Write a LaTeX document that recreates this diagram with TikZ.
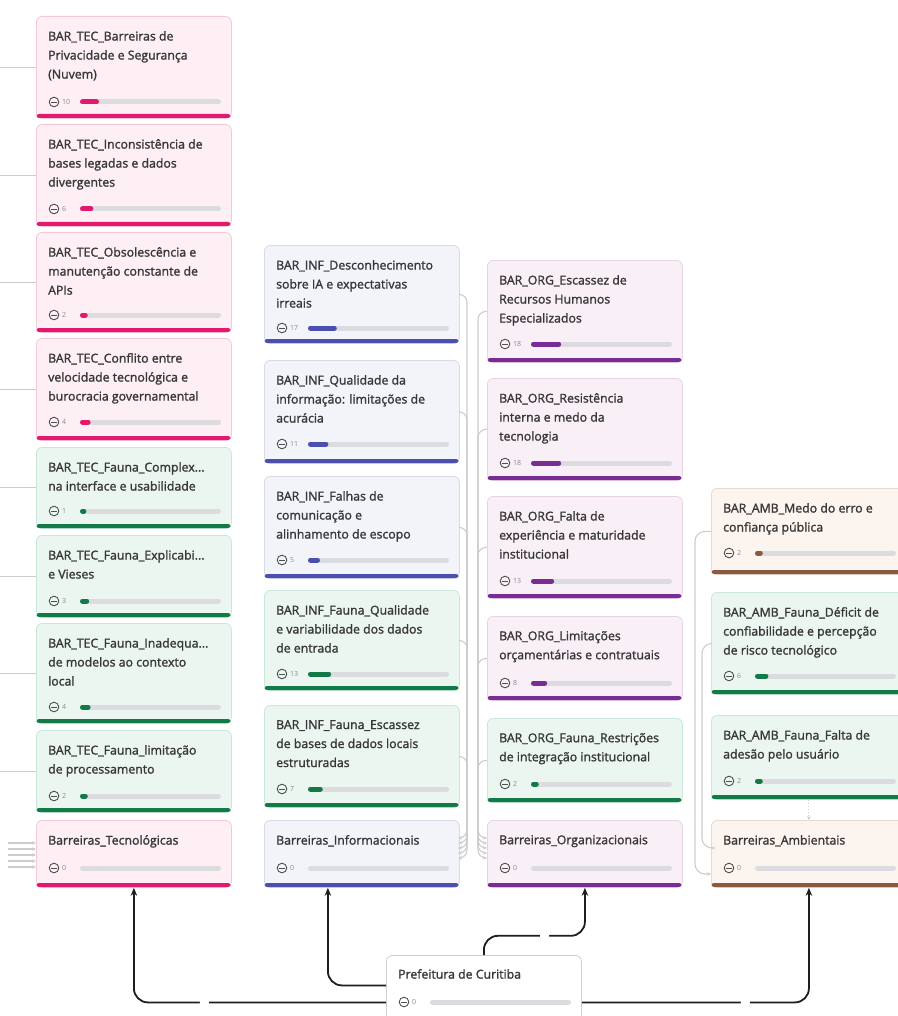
\documentclass[tikz,border=0pt]{standalone}
\usepackage{fontspec}
\setmainfont{Open Sans}
\newfontfamily\semib{Open Sans}[FakeBold=1.6]
\usetikzlibrary{arrows.meta}
\definecolor{tecFill}{HTML}{FDEFF4}\definecolor{tecLine}{HTML}{F4C8D8}\definecolor{tecAcc}{HTML}{E3186F}
\definecolor{faunaFill}{HTML}{EBF6F1}\definecolor{faunaLine}{HTML}{C9E7DA}\definecolor{faunaAcc}{HTML}{127A47}
\definecolor{infFill}{HTML}{F3F4FA}\definecolor{infLine}{HTML}{D8DAEA}\definecolor{infAcc}{HTML}{4B4FAE}
\definecolor{orgFill}{HTML}{F9EFF7}\definecolor{orgLine}{HTML}{E8D3E5}\definecolor{orgAcc}{HTML}{7A2C95}
\definecolor{ambFill}{HTML}{FBF4EF}\definecolor{ambLine}{HTML}{EAD9CD}\definecolor{ambAcc}{HTML}{8A5A3E}
\definecolor{titleCol}{HTML}{383838}
\definecolor{numCol}{HTML}{8A8A8A}
\definecolor{trackCol}{HTML}{DCDCE0}
\definecolor{connGray}{HTML}{CDCDCD}
\definecolor{iconCol}{HTML}{505050}
\definecolor{mainArrow}{HTML}{1E1E1E}

\newcommand{\card}[8]{%
  \node[cardbox=#5, minimum width=195pt, minimum height={(#4-#3)*1pt}, anchor=north west] (#1) at (#2,#3) {};
  \fill[#5Acc, rounded corners=2.5pt] (#2+0.5,#4-4) rectangle (#2+194.5,#4);
  \node[cardtext, anchor=north west] at (#2+12,#3+15) {#8};
  \coordinate (#1-i) at (#2+18,#7);
  \draw[iconline] (#1-i) circle[radius=4.8pt];
  \draw[iconline] ([xshift=-2.6pt]#1-i) -- ([xshift=2.6pt]#1-i);
  \node[numtext, anchor=west] at ([xshift=8pt]#1-i) {#6};
  \draw[track] ([xshift=28.5pt]#1-i) -- ([xshift=164.5pt]#1-i);
  \ifnum#6>0 \draw[#5Acc, line width=5pt, line cap=round] ([xshift=28.5pt]#1-i) -- ([xshift={(28.5+1.4*#6)*1pt}]#1-i);\fi
}

\begin{document}
\begin{tikzpicture}[x=1pt,y=-1pt,
  cardbox/.style={fill=#1Fill, draw=#1Line, line width=0.8pt, rounded corners=6pt, inner sep=0pt},
  cardtext/.style={font=\semib\fontsize{12.3}{19}\selectfont, text=titleCol, align=left, inner sep=0pt},
  numtext/.style={font=\fontsize{7}{8}\selectfont, text=numCol, inner sep=0pt},
  iconline/.style={draw=iconCol, line width=0.9pt},
  track/.style={draw=trackCol, line width=5pt, line cap=round},
  conn/.style={draw=connGray, line width=1.1pt},
  carr/.style={-{Stealth[length=4pt,width=3.5pt]}},
  mainarr/.style={draw=mainArrow, line width=1.8pt, rounded corners=14pt, -{Stealth[length=8pt,width=6.5pt]}},
  gap/.style={fill=white, inner sep=0pt, minimum width=9pt, minimum height=5pt}]
\fill[white] (0,0) rectangle (897,1016);
\useasboundingbox (0,0) rectangle (897,1016);

% ---------- Technological column ----------
\card{tec1}{36}{16}{118}{tec}{10}{102}{BAR\_TEC\_Barreiras de\\Privacidade e Segurança\\(Nuvem)}
\card{tec2}{36}{124}{226}{tec}{6}{209}{BAR\_TEC\_Inconsistência de\\bases legadas e dados\\divergentes}
\card{tec3}{36}{232}{332}{tec}{2}{315}{BAR\_TEC\_Obsolescência e\\manutenção constante de\\APIs}
\card{tec4}{36}{338}{440}{tec}{4}{422}{BAR\_TEC\_Conflito entre\\velocidade tecnológica e\\burocracia governamental}
\card{tec5}{36}{447}{528}{fauna}{1}{511}{BAR\_TEC\_Fauna\_Complex...\\na interface e usabilidade}
\card{tec6}{36}{535}{617}{fauna}{3}{601}{BAR\_TEC\_Fauna\_Explicabi...\\e Vieses}
\card{tec7}{36}{623}{723}{fauna}{4}{707}{BAR\_TEC\_Fauna\_Inadequa...\\de modelos ao contexto\\local}
\card{tec8}{36}{730}{812}{fauna}{2}{796}{BAR\_TEC\_Fauna\_limitação\\de processamento}
\card{btec}{36}{820}{887}{tec}{0}{868}{Barreiras\_Tecnológicas}

% ---------- Informational column ----------
\card{inf1}{264}{245}{343}{inf}{17}{328}{BAR\_INF\_Desconhecimento\\sobre IA e expectativas\\irreais}
\card{inf2}{264}{360}{463}{inf}{11}{444}{BAR\_INF\_Qualidade da\\informação: limitações de\\acurácia}
\card{inf3}{264}{476}{578}{inf}{5}{560}{BAR\_INF\_Falhas de\\comunicação e\\alinhamento de escopo}
\card{inf4}{264}{590}{690}{fauna}{13}{674}{BAR\_INF\_Fauna\_Qualidade\\e variabilidade dos dados\\de entrada}
\card{inf5}{264}{705}{807}{fauna}{7}{789}{BAR\_INF\_Fauna\_Escassez\\de bases de dados locais\\estruturadas}
\card{binf}{264}{820}{887}{inf}{0}{868}{Barreiras\_Informacionais}

% ---------- Organisational column ----------
\card{org1}{487}{260}{362}{org}{18}{344}{BAR\_ORG\_Escassez de\\Recursos Humanos\\Especializados}
\card{org2}{487}{378}{480}{org}{18}{463}{BAR\_ORG\_Resistência\\interna e medo da\\tecnologia}
\card{org3}{487}{496}{598}{org}{13}{581}{BAR\_ORG\_Falta de\\experiência e maturidade\\institucional}
\card{org4}{487}{616}{700}{org}{8}{683}{BAR\_ORG\_Limitações\\orçamentárias e contratuais}
\card{org5}{487}{718}{802}{fauna}{2}{784}{BAR\_ORG\_Fauna\_Restrições\\de integração institucional}
\card{borg}{487}{820}{887}{org}{0}{868}{Barreiras\_Organizacionais}

% ---------- Environmental column ----------
\card{amb1}{711}{488}{574}{amb}{2}{553}{BAR\_AMB\_Medo do erro e\\confiança pública}
\card{amb2}{711}{592}{694}{fauna}{6}{676}{BAR\_AMB\_Fauna\_Déficit de\\confiabilidade e percepção\\de risco tecnológico}
\card{amb3}{711}{715}{799}{fauna}{2}{781}{BAR\_AMB\_Fauna\_Falta de\\adesão pelo usuário}
\card{bamb}{711}{820}{887}{amb}{0}{868}{Barreiras\_Ambientais}

% ---------- Root ----------
\node[fill=white, draw=black!18, line width=0.8pt, rounded corners=6pt, inner sep=0pt,
      minimum width=195pt, minimum height=80pt, anchor=north west] (pref) at (386,955) {};
\node[cardtext, anchor=north west] at (398,969) {Prefeitura de Curitiba};
\coordinate (pref-i) at (404,1002);
\draw[iconline] (pref-i) circle[radius=4.8pt];
\draw[iconline] ([xshift=-2.6pt]pref-i) -- ([xshift=2.6pt]pref-i);
\node[numtext, anchor=west] at ([xshift=8pt]pref-i) {0};
\draw[track] ([xshift=28.5pt]pref-i) -- ([xshift=164.5pt]pref-i);

% ---------- grey connectors ----------
\coordinate (lft) at (0,0);
\foreach \n in {tec1,tec2,tec3,tec4,tec5,tec6,tec7,tec8}
  \draw[conn] (\n.west) -- (\n.west -| lft);
\foreach \k/\yy in {1/843,2/849,3/855,4/861,5/867}{
  \coordinate (tb\k) at (8,\yy);
  \draw[conn,carr] (tb\k) -- (tb\k -| btec.west);
}
\coordinate (infbus) at (467,0);
\coordinate (orgbus) at (478,0);
\foreach \k/\yy in {1/838,2/843,3/848,4/853,5/858}{
  \coordinate (ik\k) at (458,\yy);
  \coordinate (ok\k) at (487,\yy);
  \draw[conn,carr,rounded corners=8pt] (inf\k.east) -| (infbus |- ik\k) -- (ik\k);
  \draw[conn,carr,rounded corners=8pt] (org\k.west) -| (orgbus |- ok\k) -- (ok\k);
}
\coordinate (ambbusA) at (695,0);
\coordinate (ambbusB) at (702,0);
\coordinate (a1) at (711,874);
\coordinate (a2) at (711,848);
\draw[conn,carr,rounded corners=10pt] (amb1.west) -| (ambbusA |- a1) -- (a1);
\draw[conn,carr,rounded corners=10pt] (amb2.west) -| (ambbusB |- a2) -- (a2);
\draw[conn,carr,dotted] (amb3.south) -- (bamb.north);

% ---------- main black arrows ----------
\draw[mainarr] ([yshift=-7pt]pref.west) -| node[gap,pos=0.36]{} (btec.south);
\draw[mainarr] ([yshift=10pt]pref.west) -| ([xshift=-34pt]binf.south);
\draw[mainarr] (pref.north) |- node[gap,pos=0.8]{} ([yshift=-48pt]borg.south) -- (borg.south);
\draw[mainarr] ([yshift=-7pt]pref.east) -| node[gap,pos=0.36]{} (bamb.south);
\end{tikzpicture}
\end{document}
